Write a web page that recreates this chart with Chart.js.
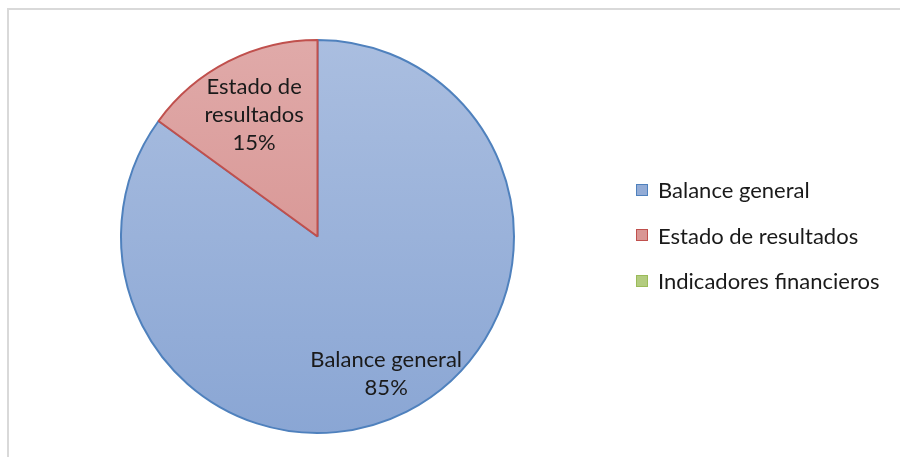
<!DOCTYPE html>
<html>
<head>
<meta charset="utf-8">
<script src="https://cdn.jsdelivr.net/npm/chart.js@4/dist/chart.umd.min.js"></script>
<style>
  html, body { margin: 0; padding: 0; background: #fff; }
  #wrap { position: relative; width: 900px; height: 457px; overflow: hidden; background: #fff; }
  #frame { position: absolute; left: 7px; top: 8px; width: 1000px; height: 1000px; border: 2px solid #d9d9d9; box-sizing: border-box; }
  canvas { position: absolute; left: 0; top: 0; }
  #legend { position: absolute; left: 636px; top: 167px; font-family: Lato, "Open Sans", sans-serif; font-size: 22px; color: #1a1a1a; }
  .item { height: 45.5px; display: flex; align-items: center; white-space: nowrap; }
  .sw { width: 12px; height: 12px; margin-right: 10px; box-sizing: border-box; border: 1.5px solid; }
</style>
</head>
<body>
<div id="wrap">
  <div id="frame"></div>
  <canvas id="c" width="900" height="457"></canvas>
  <div id="legend"></div>
</div>
<script>
const categories = ["Balance general", "Estado de resultados", "Indicadores financieros"];
const values = [85, 15, 0];
const percentLabels = ["85%", "15%", "0%"];

const borderColors = ["#4f81bd", "#c0504d", "#9bbb59"];
const topColors = ["#aabee0", "#e0aaa9", "#b9d08a"];
const bottomColors = ["#8aa6d4", "#d38886", "#9bbb59"];
const swatchColors = ["#93acd6", "#d99694", "#b3cc7f"];
const labelFactors = [0.77, 0.71, 0.7];
const labelLines = [["Balance general", "85%"], ["Estado de", "resultados", "15%"], ["Indicadores financieros", "0%"]];

function gradFill(ctx) {
  const chart = ctx.chart;
  const area = chart.chartArea;
  if (!area) return topColors[ctx.dataIndex];
  const g = chart.ctx.createLinearGradient(0, area.top, 0, area.bottom);
  g.addColorStop(0, topColors[ctx.dataIndex]);
  g.addColorStop(1, bottomColors[ctx.dataIndex]);
  return g;
}

const labelPlugin = {
  id: 'sliceLabels',
  afterDatasetsDraw(chart) {
    const ctx = chart.ctx;
    const meta = chart.getDatasetMeta(0);
    ctx.save();
    ctx.font = '22px Lato, "Open Sans", sans-serif';
    ctx.fillStyle = '#1a1a1a';
    ctx.textAlign = 'center';
    ctx.textBaseline = 'middle';
    meta.data.forEach((arc, i) => {
      if (!values[i]) return;
      const p = arc.getProps(['x', 'y', 'startAngle', 'endAngle', 'outerRadius'], true);
      const mid = (p.startAngle + p.endAngle) / 2;
      const r = p.outerRadius * labelFactors[i];
      const cx = p.x + Math.cos(mid) * r;
      const cy = p.y + Math.sin(mid) * r + 3;
      const lines = labelLines[i];
      const lh = 28;
      lines.forEach((t, k) => {
        ctx.fillText(t, cx, cy + (k - (lines.length - 1) / 2) * lh);
      });
    });
    ctx.restore();
  }
};

new Chart(document.getElementById('c'), {
  type: 'pie',
  data: {
    labels: categories,
    datasets: [{
      data: values,
      backgroundColor: gradFill,
      borderColor: borderColors,
      borderWidth: values.map(v => v ? 2 : 0),
      borderAlign: 'center'
    }]
  },
  options: {
    responsive: false,
    animation: false,
    devicePixelRatio: 1,
    layout: { padding: { left: 120, top: 38, right: 385, bottom: 22 } },
    plugins: {
      legend: { display: false },
      tooltip: { enabled: false }
    }
  },
  plugins: [labelPlugin]
});

const legend = document.getElementById('legend');
categories.forEach((name, i) => {
  const d = document.createElement('div');
  d.className = 'item';
  const s = document.createElement('span');
  s.className = 'sw';
  s.style.background = swatchColors[i];
  s.style.borderColor = borderColors[i];
  const t = document.createElement('span');
  t.textContent = name;
  d.appendChild(s);
  d.appendChild(t);
  legend.appendChild(d);
});
</script>
</body>
</html>
